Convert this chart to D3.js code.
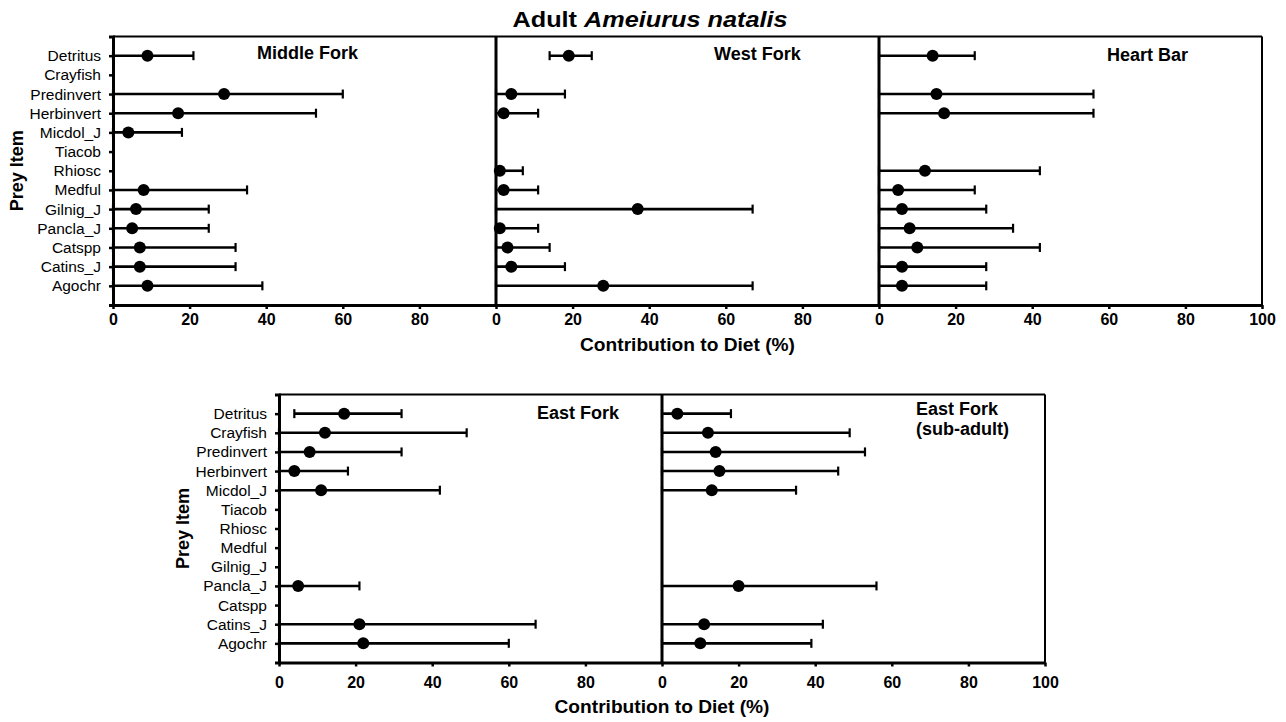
<!DOCTYPE html>
<html>
<head>
<meta charset="utf-8">
<script src="https://cdn.jsdelivr.net/npm/d3@7"></script>
<style>
  body { margin: 0; background: #fff; }
  svg { font-family: "Liberation Sans", Arial, sans-serif; }
  .cat-label { font-size: 15.5px; fill: #000; }
  .x-tick text { font-size: 16px; font-weight: bold; }
</style>
</head>
<body>
<div id="chart"></div>
<script>
// prey items, top to bottom
const prey = ["Detritus", "Crayfish", "Predinvert", "Herbinvert", "Micdol_J", "Tiacob",
  "Rhiosc", "Medful", "Gilnig_J", "Pancla_J", "Catspp", "Catins_J", "Agochr"];

// Middle Fork
const middleMean = [9, null, 29, 17, 4, null, null, 8, 6, 5, 7, 7, 9];
const middleLo   = [0, null, 0, 0, 0, null, null, 0, 0, 0, 0, 0, 0];
const middleHi   = [21, null, 60, 53, 18, null, null, 35, 25, 25, 32, 32, 39];

// West Fork
const westMean = [19, null, 4, 2, null, null, 1, 2, 37, 1, 3, 4, 28];
const westLo   = [14, null, 0, 0, null, null, 0, 0, 0, 0, 0, 0, 0];
const westHi   = [25, null, 18, 11, null, null, 7, 11, 67, 11, 14, 18, 67];

// Heart Bar
const heartMean = [14, null, 15, 17, null, null, 12, 5, 6, 8, 10, 6, 6];
const heartLo   = [0, null, 0, 0, null, null, 0, 0, 0, 0, 0, 0, 0];
const heartHi   = [25, null, 56, 56, null, null, 42, 25, 28, 35, 42, 28, 28];

// East Fork
const eastMean = [17, 12, 8, 4, 11, null, null, null, null, 5, null, 21, 22];
const eastLo   = [4, 0, 0, 0, 0, null, null, null, null, 0, null, 0, 0];
const eastHi   = [32, 49, 32, 18, 42, null, null, null, null, 21, null, 67, 60];

// East Fork (sub-adult)
const subMean = [4, 12, 14, 15, 13, null, null, null, null, 20, null, 11, 10];
const subLo   = [0, 0, 0, 0, 0, null, null, null, null, 0, null, 0, 0];
const subHi   = [18, 49, 53, 46, 35, null, null, null, null, 56, null, 42, 39];

const ticksShort = [0, 20, 40, 60, 80];
const ticksLong = [0, 20, 40, 60, 80, 100];

const width = 1286, height = 722;
const panelW = 383;

const rows = [
  { top: 36.5, bottom: 305, tickPad: 5, labelX: 23, xTitleY: 351 },
  { top: 394.5, bottom: 662.5, tickPad: 10, labelX: 189, xTitleY: 713 }
];

const panels = [
  { title: ["Middle Fork"], left: 113, row: 0, mean: middleMean, lo: middleLo, hi: middleHi, ticks: ticksShort, first: true, tx: 257, ty: 59 },
  { title: ["West Fork"], left: 496, row: 0, mean: westMean, lo: westLo, hi: westHi, ticks: ticksShort, tx: 714, ty: 60 },
  { title: ["Heart Bar"], left: 879, row: 0, mean: heartMean, lo: heartLo, hi: heartHi, ticks: ticksLong, last: true, tx: 1107, ty: 61 },
  { title: ["East Fork"], left: 279, row: 1, mean: eastMean, lo: eastLo, hi: eastHi, ticks: ticksShort, first: true, tx: 537, ty: 419 },
  { title: ["East Fork", "(sub-adult)"], left: 662, row: 1, mean: subMean, lo: subLo, hi: subHi, ticks: ticksLong, last: true, tx: 916, ty: 415 }
];

const svg = d3.select("#chart").append("svg")
  .attr("width", width)
  .attr("height", height);

// title
const title = svg.append("text")
  .attr("x", 650)
  .attr("y", 27)
  .attr("text-anchor", "middle")
  .attr("font-size", 22)
  .attr("font-weight", "bold")
  .attr("textLength", 275)
  .attr("lengthAdjust", "spacingAndGlyphs");
title.append("tspan").text("Adult ");
title.append("tspan").attr("font-style", "italic").text("Ameiurus natalis");

panels.forEach(p => {
  const r = rows[p.row];
  const x = d3.scaleLinear().domain([0, 100]).range([p.left, p.left + panelW]);
  const y = d3.scalePoint().domain(prey).range([r.top, r.bottom]).padding(1);

  const g = svg.append("g");

  // top + right frame
  g.append("line")
    .attr("x1", p.left).attr("x2", p.left + panelW)
    .attr("y1", r.top).attr("y2", r.top)
    .attr("stroke", "#000").attr("stroke-width", 2);
  if (p.last) {
    g.append("line")
      .attr("x1", p.left + panelW).attr("x2", p.left + panelW)
      .attr("y1", r.top).attr("y2", r.bottom)
      .attr("stroke", "#000").attr("stroke-width", 2);
  }

  // x axis
  const xa = g.append("g")
    .attr("class", "x-tick")
    .attr("transform", `translate(0,${r.bottom})`)
    .call(d3.axisBottom(x).tickValues(p.ticks).tickSize(4).tickSizeOuter(0).tickPadding(r.tickPad));
  xa.select(".domain").attr("stroke-width", 3);
  xa.selectAll(".tick line").attr("stroke-width", 2.5);
  xa.selectAll("text").attr("fill", "#000");

  // y axis
  if (p.first) {
    const ya = g.append("g")
      .attr("transform", `translate(${p.left},0)`)
      .call(d3.axisLeft(y).tickSize(4).tickSizeOuter(4).tickPadding(8));
    ya.select(".domain").attr("stroke-width", 3);
    ya.selectAll(".tick line").attr("stroke-width", 2.5);
    ya.selectAll("text").attr("class", "cat-label").attr("font-size", null);
  } else {
    g.append("line")
      .attr("x1", p.left).attr("x2", p.left)
      .attr("y1", r.top).attr("y2", r.bottom)
      .attr("stroke", "#000").attr("stroke-width", 3);
  }

  const pts = prey.map((c, i) => ({ cat: c, m: p.mean[i], lo: p.lo[i], hi: p.hi[i] }))
    .filter(d => d.m !== null);

  // error bars
  g.selectAll(".bar").data(pts).enter().append("line")
    .attr("x1", d => x(d.lo)).attr("x2", d => x(d.hi))
    .attr("y1", d => y(d.cat)).attr("y2", d => y(d.cat))
    .attr("stroke", "#000").attr("stroke-width", 2.6);
  ["lo", "hi"].forEach(k => {
    g.selectAll(".cap-" + k).data(pts).enter().append("line")
      .attr("x1", d => x(d[k])).attr("x2", d => x(d[k]))
      .attr("y1", d => y(d.cat) - 4.5).attr("y2", d => y(d.cat) + 4.5)
      .attr("stroke", "#000").attr("stroke-width", 2.2);
  });
  g.selectAll(".dot").data(pts).enter().append("circle")
    .attr("cx", d => x(d.m)).attr("cy", d => y(d.cat))
    .attr("r", 6).attr("fill", "#000");

  // panel label
  const t = g.append("text")
    .attr("x", p.tx).attr("y", p.ty)
    .attr("font-size", 18).attr("font-weight", "bold");
  p.title.forEach((s, i) => {
    t.append("tspan").attr("x", p.tx).attr("dy", i === 0 ? 0 : 20).text(s);
  });
});

// axis titles per row
rows.forEach((r, i) => {
  const left = i === 0 ? 113 : 279;
  const right = left + panelW * (i === 0 ? 3 : 2);
  svg.append("text")
    .attr("x", (left + right) / 2)
    .attr("y", r.xTitleY)
    .attr("text-anchor", "middle")
    .attr("font-size", 18).attr("font-weight", "bold")
    .attr("textLength", 215).attr("lengthAdjust", "spacingAndGlyphs")
    .text("Contribution to Diet (%)");
  svg.append("text")
    .attr("transform", `translate(${r.labelX},${(r.top + r.bottom) / 2}) rotate(-90)`)
    .attr("text-anchor", "middle")
    .attr("font-size", 18).attr("font-weight", "bold")
    .text("Prey Item");
});
</script>
</body>
</html>
